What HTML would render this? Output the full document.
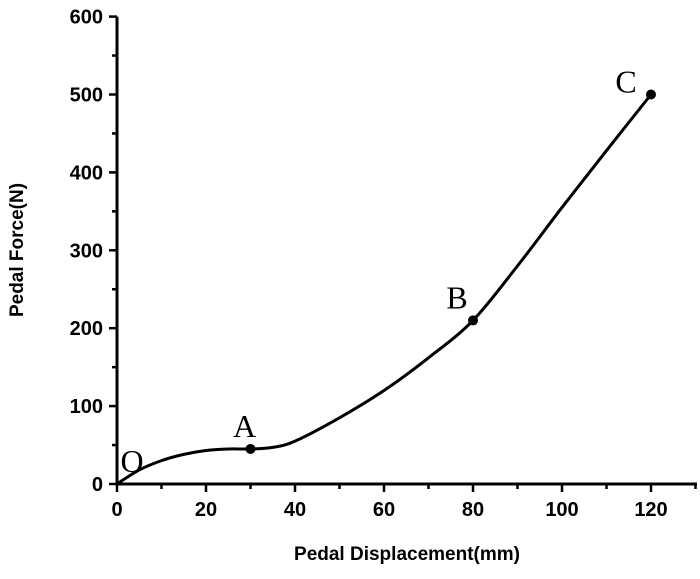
<!DOCTYPE html>
<html><head><meta charset="utf-8"><style>
body{margin:0;background:#fff}
svg text{font-family:"Liberation Sans",sans-serif}
</style></head><body>
<svg id="chart" width="700" height="574" viewBox="0 0 700 574">
<g id="axes"></g><g id="plot"></g>
</svg>
<script>
const xVals=[0,5,10,15,20,25,30,35,40,50,60,70,80,90,100,110,120];
const yVals=[0,18,30,38,43,45,45,47,55,85,120,162,210,280,355,428,500];
const keyX=[0,30,80,120];
const keyY=[0,45,210,500];
const keyLabels=["O","A","B","C"];
const xTicks=[0,20,40,60,80,100,120];
const yTicks=[0,100,200,300,400,500,600];
const ns="http://www.w3.org/2000/svg";
const X0=117,Y0=484,KX=4.45,KY=0.779;
const sx=v=>X0+v*KX, sy=v=>Y0-v*KY;
function mk(t,a,p){const e=document.createElementNS(ns,t);for(const k in a)e.setAttribute(k,a[k]);p.appendChild(e);return e;}
const ax=document.getElementById('axes'),pl=document.getElementById('plot');
const xa=mk('line',{x1:X0,y1:Y0,x2:697,y2:Y0,stroke:'#000','stroke-width':3},ax);


const ya=mk('line',{x1:X0,y1:Y0,x2:X0,y2:sy(600),stroke:'#000','stroke-width':3},ax);


for(let v=0;v<=130;v+=10){const big=v%20==0;mk('line',{x1:sx(v),y1:Y0,x2:sx(v),y2:Y0+(big?8:5),stroke:'#000','stroke-width':2.5},ax);}
for(let v=0;v<=600;v+=50){const big=v%100==0;mk('line',{x1:X0,y1:sy(v),x2:X0-(big?8:5),y2:sy(v),stroke:'#000','stroke-width':2.5},ax);}
xTicks.forEach(v=>{const t=mk('text',{x:sx(v),y:516,'text-anchor':'middle','font-size':20,'font-weight':'bold'},ax);t.textContent=v;

});
yTicks.forEach(v=>{const t=mk('text',{x:103,y:sy(v)+7,'text-anchor':'end','font-size':20,'font-weight':'bold'},ax);t.textContent=v;

});
const xt=mk('text',{x:407,y:560,'text-anchor':'middle','font-size':19,'font-weight':'bold'},ax);xt.textContent='Pedal Displacement(mm)';


const yt=mk('text',{x:0,y:0,'text-anchor':'middle','font-size':19,'font-weight':'bold',transform:'translate(23,250) rotate(-90)'},ax);yt.textContent='Pedal Force(N)';


const P=xVals.map((x,i)=>[sx(x),sy(yVals[i])]);
let d=`M${P[0][0]},${P[0][1]}`;
for(let i=0;i<P.length-1;i++){const p0=P[Math.max(i-1,0)],p1=P[i],p2=P[i+1],p3=P[Math.min(i+2,P.length-1)];
d+=` C${p1[0]+(p2[0]-p0[0])/6},${p1[1]+(p2[1]-p0[1])/6} ${p2[0]-(p3[0]-p1[0])/6},${p2[1]-(p3[1]-p1[1])/6} ${p2[0]},${p2[1]}`;}
const cv=mk('path',{d:d,fill:'none',stroke:'#000','stroke-width':3},pl);


const off=[[15,-12],[-6,-12],[-16,-12],[-25,-2]];
keyX.forEach((x,i)=>{
 if(i>0){const c=mk('circle',{cx:sx(x),cy:sy(keyY[i]),r:5,fill:'#000'},pl);
 
 }
 const t=mk('text',{x:sx(x)+off[i][0],y:sy(keyY[i])+off[i][1],'text-anchor':'middle','font-size':32,style:'font-family:"Liberation Serif",serif'},pl);
 t.textContent=keyLabels[i];
 
 
});
</script>
</body></html>
